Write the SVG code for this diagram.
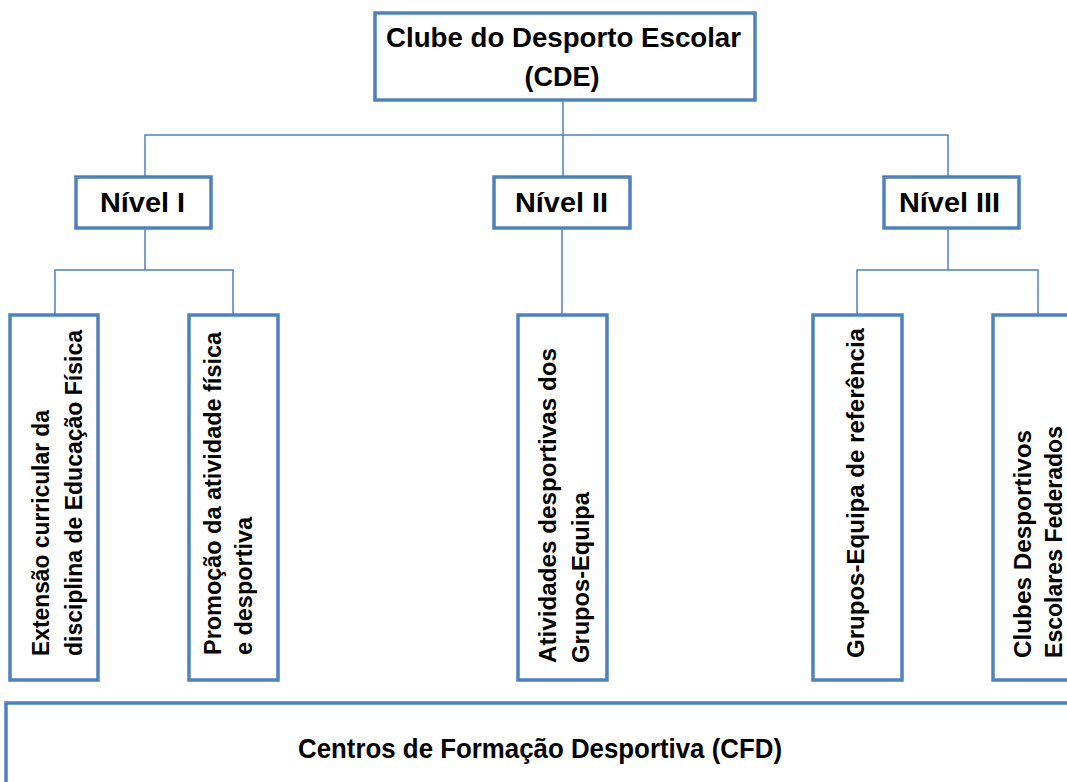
<svg xmlns="http://www.w3.org/2000/svg" width="1067" height="782" viewBox="0 0 1067 782">
<style>
.box{fill:#ffffff;stroke:#4f81bd;stroke-width:3.5}
.con{fill:none;stroke:#4f81bd;stroke-width:1.5}
.t{font-family:"Liberation Sans",Arial,sans-serif;font-weight:bold;fill:#000000}
.h{font-size:27px}
.v{font-size:24px}
</style>
<rect width="1067" height="782" fill="#ffffff"/>
<g id="connectors">
<path class="con" d="M563,100 V135 M145,177 V135 H948 V177 M563,135 V177"/>
<path class="con" d="M145,228 V270 M55,315 V270 H233 V315"/>
<path class="con" d="M562,228 V315"/>
<path class="con" d="M948,228 V270 M857,315 V270 H1038 V315"/>
</g>
<g id="cde">
<rect class="box" x="375" y="13" width="380" height="87"/>
<text class="t h" x="386" y="47" textLength="355" lengthAdjust="spacingAndGlyphs">Clube do Desporto Escolar</text>
<text class="t h" x="562" y="86" text-anchor="middle">(CDE)</text>
</g>
<g id="nivel1">
<rect class="box" x="76" y="177" width="135" height="51"/>
<text class="t h" x="100" y="212" textLength="85" lengthAdjust="spacingAndGlyphs">Nível I</text>
</g>
<g id="nivel2">
<rect class="box" x="494" y="177" width="136" height="51"/>
<text class="t h" x="515" y="212" textLength="93" lengthAdjust="spacingAndGlyphs">Nível II</text>
</g>
<g id="nivel3">
<rect class="box" x="884" y="177" width="135" height="51"/>
<text class="t h" x="899" y="212" textLength="101" lengthAdjust="spacingAndGlyphs">Nível III</text>
</g>
<g id="extensao">
<rect class="box" x="10" y="315" width="88" height="365"/>
<text class="t v" transform="translate(49,656) rotate(-90)" textLength="246" lengthAdjust="spacingAndGlyphs">Extensão curricular da</text>
<text class="t v" transform="translate(82,656) rotate(-90)" textLength="326" lengthAdjust="spacingAndGlyphs">disciplina de Educação Física</text>
</g>
<g id="promocao">
<rect class="box" x="189" y="315" width="89" height="365"/>
<text class="t v" transform="translate(221,655) rotate(-90)" textLength="323" lengthAdjust="spacingAndGlyphs">Promoção da atividade física</text>
<text class="t v" transform="translate(252,655) rotate(-90)" textLength="138" lengthAdjust="spacingAndGlyphs">e desportiva</text>
</g>
<g id="atividades">
<rect class="box" x="518" y="315" width="89" height="365"/>
<text class="t v" transform="translate(556,663) rotate(-90)" textLength="315" lengthAdjust="spacingAndGlyphs">Atividades desportivas dos</text>
<text class="t v" transform="translate(589,663) rotate(-90)" textLength="171" lengthAdjust="spacingAndGlyphs">Grupos-Equipa</text>
</g>
<g id="grupos">
<rect class="box" x="813" y="315" width="89" height="365"/>
<text class="t v" transform="translate(864,658) rotate(-90)" textLength="330" lengthAdjust="spacingAndGlyphs">Grupos-Equipa de referência</text>
</g>
<g id="clubes">
<rect class="box" x="993" y="315" width="100" height="365"/>
<text class="t v" transform="translate(1031,658) rotate(-90)" textLength="228" lengthAdjust="spacingAndGlyphs">Clubes Desportivos</text>
<text class="t v" transform="translate(1062,658) rotate(-90)" textLength="232" lengthAdjust="spacingAndGlyphs">Escolares Federados</text>
</g>
<g id="cfd">
<rect class="box" x="6" y="703" width="1090" height="100"/>
<text class="t h" x="298" y="758" textLength="484" lengthAdjust="spacingAndGlyphs">Centros de Formação Desportiva (CFD)</text>
</g>
</svg>
